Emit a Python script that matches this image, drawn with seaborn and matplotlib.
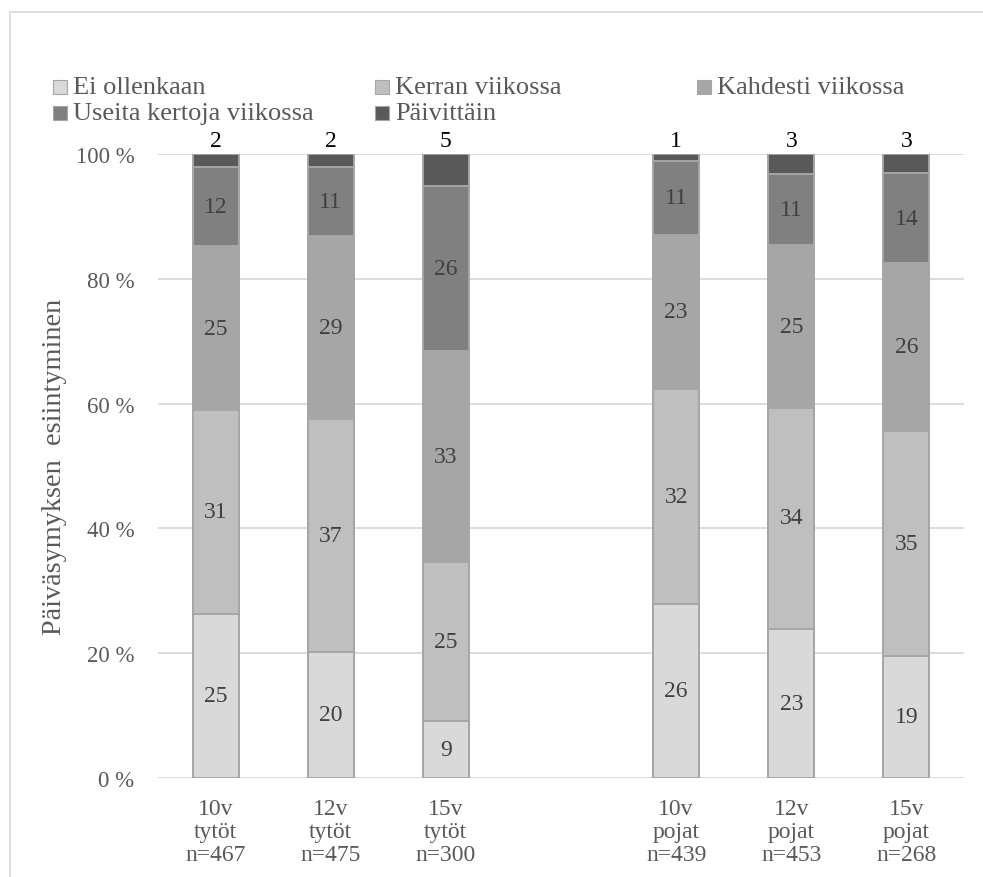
import matplotlib
matplotlib.use("Agg")
import matplotlib.pyplot as plt
import seaborn as sns
import numpy as np
import pandas as pd
from matplotlib.patches import Rectangle

# Categories (age group, gender, sample size)
groups = ["10v\ntytöt\nn=467", "12v\ntytöt\nn=475", "15v\ntytöt\nn=300",
          "10v\npojat\nn=439", "12v\npojat\nn=453", "15v\npojat\nn=268"]
series = ["Ei ollenkaan", "Kerran viikossa", "Kahdesti viikossa",
          "Useita kertoja viikossa", "Päivittäin"]

# Percentages per response option
ei_ollenkaan = [25, 20, 9, 26, 23, 19]
kerran = [31, 37, 25, 32, 34, 35]
kahdesti = [25, 29, 33, 23, 25, 26]
useita = [12, 11, 26, 11, 11, 14]
paivittain = [2, 2, 5, 1, 3, 3]

colors = ["#d9d9d9", "#bfbfbf", "#a6a6a6", "#808080", "#595959"]
edge = "#a6a6a6"

sns.set_theme(style="white")
plt.rcParams["font.family"] = ["Liberation Serif", "DejaVu Serif"]

values = np.array([ei_ollenkaan, kerran, kahdesti, useita, paivittain], dtype=float)
totals = values.sum(axis=0)
shares = values / totals * 100          # stacked to 100 %
cum = np.cumsum(shares, axis=0)

# empty slot separates girls and boys
order = groups[:3] + [" "] + groups[3:]

fig = plt.figure(figsize=(9.83, 8.78), dpi=100)
ax = fig.add_axes([158 / 983, 1 - 779 / 878, (964 - 158) / 983, (779 - 155) / 878])

for k in reversed(range(len(series))):
    df = pd.DataFrame({"ryhma": groups, "osuus": cum[k]})
    sns.barplot(data=df, x="ryhma", y="osuus", order=order, color=colors[k],
                saturation=1, edgecolor=edge, linewidth=1.4, width=0.4,
                errorbar=None, ax=ax)

# value labels
for j, g in enumerate(groups):
    x = order.index(g)
    for k in range(len(series) - 1):
        mid = cum[k, j] - shares[k, j] / 2
        ax.text(x, mid, f"{int(values[k, j])}", ha="center", va="center",
                fontsize=17, color="#404040")
    ax.text(x, 100.5, f"{int(values[-1, j])}", ha="center", va="bottom",
            fontsize=17, color="black")

ax.set_ylim(0, 100)
ax.set_xlim(-0.5, len(order) - 0.5)
ax.set_yticks(np.arange(0, 101, 20))
ax.set_yticklabels([f"{t} %" for t in range(0, 101, 20)])
ax.yaxis.grid(True, color="#d9d9d9", linewidth=1.3)
ax.set_axisbelow(True)
for s in ax.spines.values():
    s.set_visible(False)
ax.tick_params(axis="y", length=0, pad=17, labelsize=16.5, labelcolor="#595959")
ax.tick_params(axis="x", length=0, pad=14.5, labelsize=17, labelcolor="#595959")
for lab in ax.get_xticklabels():
    lab.set_linespacing(1.13)
ax.set_xlabel("")
ax.set_ylabel("Päiväsymyksen  esiintyminen", fontsize=20.3, color="#595959", labelpad=6)

# legend in three columns along the top
leg_pos = [(53, 88), (53, 114), (375, 88), (375, 114), (697, 88)]
leg_order = [0, 3, 1, 4, 2]
for (px, py), k in zip(leg_pos, leg_order):
    size = 14
    fig.add_artist(Rectangle((px / 983, 1 - (py + size / 2) / 878), size / 983, size / 878,
                             transform=fig.transFigure, facecolor=colors[k],
                             edgecolor="#a6a6a6", linewidth=0.8))
    fig.text((px + 20) / 983, 1 - py / 878, series[k], fontsize=19,
             color="#595959", va="center", ha="left")

# outer frame
fig.add_artist(Rectangle((9.5 / 983, -0.02), 1.0, (878 - 12.5) / 878 + 0.02,
                         transform=fig.transFigure, fill=False,
                         edgecolor="#d9d9d9", linewidth=1.2))

fig.savefig("out.png", dpi=100)
